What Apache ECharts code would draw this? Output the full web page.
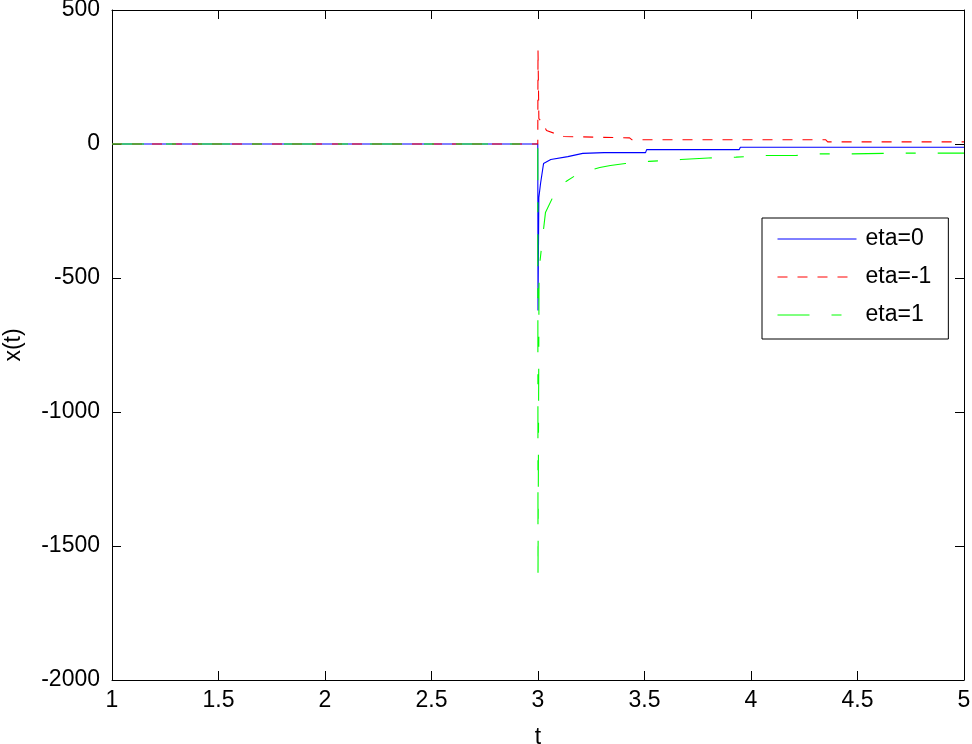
<!DOCTYPE html>
<html>
<head>
<meta charset="utf-8">
<script src="https://cdn.jsdelivr.net/npm/echarts@6/dist/echarts.min.js"></script>
<style>
html,body{margin:0;padding:0;background:#fff;}
#chart{width:972px;height:744px;}
</style>
</head>
<body>
<div id="chart"></div>
<script>
// Data: [t, x(t)]
const seriesNames = ['eta=0', 'eta=-1', 'eta=1'];
const xTicks = { min: 1, max: 5, interval: 0.5 };
const yTicks = { min: -2000, max: 500, interval: 500 };

const eta0 = [
  [1, 0], [2.999, 0], [3.0, -621], [3.004, -200], [3.012, -147], [3.026, -73],
  [3.06, -58], [3.14, -47], [3.21, -35], [3.31, -32], [3.505, -32], [3.51, -21],
  [3.945, -21], [3.95, -12], [5, -12]
];
const etaMinus1 = [
  [1, 0], [2.999, 0], [3.0, 350], [3.004, 95], [3.02, 80], [3.04, 50],
  [3.08, 39], [3.12, 28], [3.3, 25], [3.43, 23], [3.44, 16], [4.35, 16],
  [4.36, 8], [5, 8]
];
const eta1 = [
  [1, 0], [2.999, 0], [3.0, -1610], [3.005, -470], [3.02, -360], [3.035, -256],
  [3.08, -181], [3.11, -151], [3.19, -110], [3.29, -88], [3.34, -80], [3.41, -73],
  [3.52, -65], [3.67, -58], [3.8, -52], [3.93, -49], [4.07, -43], [4.21, -43],
  [4.32, -37], [4.45, -37], [4.7, -34], [5, -34]
];

const FONT = 'Liberation Sans, Arial, Helvetica, sans-serif';
const FS = 23;
const chart = echarts.init(document.getElementById('chart'), null, { renderer: 'canvas' });

const axisCommon = {
  axisLine: { show: true, onZero: false, lineStyle: { color: '#000', width: 1 } },
  axisTick: { show: true, inside: true, length: 9, lineStyle: { color: '#000', width: 1 } },
  splitLine: { show: false }
};
const plain = v => String(v);

chart.setOption({
  animation: false,
  backgroundColor: '#fff',
  grid: { left: 112, right: 8, top: 10, bottom: 64, containLabel: false, outerBoundsMode: 'none' },
  legend: {
    orient: 'vertical',
    left: 762,
    top: 218,
    padding: [8, 17, 11, 15],
    itemWidth: 79,
    itemHeight: 14,
    itemGap: 12,
    borderColor: '#000',
    borderWidth: 1,
    backgroundColor: '#fff',
    itemStyle: { opacity: 0 },
    lineStyle: { width: 1 },
    textStyle: { fontFamily: FONT, fontSize: FS, color: '#000', lineHeight: 26, padding: [0, 0, 0, 4] },
    data: seriesNames
  },
  xAxis: [
    Object.assign({
      type: 'value', min: xTicks.min, max: xTicks.max, interval: xTicks.interval,
      position: 'bottom',
      name: 't', nameLocation: 'middle', nameGap: 46,
      nameTextStyle: { fontFamily: FONT, fontSize: FS, color: '#000' },
      axisLabel: { fontFamily: FONT, fontSize: FS, color: '#000', margin: 9, formatter: plain }
    }, axisCommon),
    Object.assign({
      type: 'value', min: xTicks.min, max: xTicks.max, interval: xTicks.interval,
      position: 'top', axisLabel: { show: false }
    }, axisCommon)
  ],
  yAxis: [
    Object.assign({
      type: 'value', min: yTicks.min, max: yTicks.max, interval: yTicks.interval,
      position: 'left',
      name: 'x(t)', nameLocation: 'middle', nameGap: 87, nameRotate: 90,
      nameTextStyle: { fontFamily: FONT, fontSize: FS, color: '#000' },
      axisLabel: { fontFamily: FONT, fontSize: FS, color: '#000', margin: 12, formatter: plain }
    }, axisCommon),
    Object.assign({
      type: 'value', min: yTicks.min, max: yTicks.max, interval: yTicks.interval,
      position: 'right', axisLabel: { show: false }
    }, axisCommon)
  ],
  series: [
    {
      name: seriesNames[0], type: 'line', data: eta0, symbol: 'none', showSymbol: false,
      color: '#0000ff', lineStyle: { color: '#0000ff', width: 1.1, type: 'solid' }
    },
    {
      name: seriesNames[1], type: 'line', data: etaMinus1, symbol: 'none', showSymbol: false,
      color: '#ff0000', lineStyle: { color: '#ff0000', width: 1.1, type: [10, 10] }
    },
    {
      name: seriesNames[2], type: 'line', data: eta1, symbol: 'none', showSymbol: false,
      color: '#00ff00', lineStyle: { color: '#00ff00', width: 1.1, type: [32, 22, 10, 22] }
    }
  ]
});
</script>
</body>
</html>
